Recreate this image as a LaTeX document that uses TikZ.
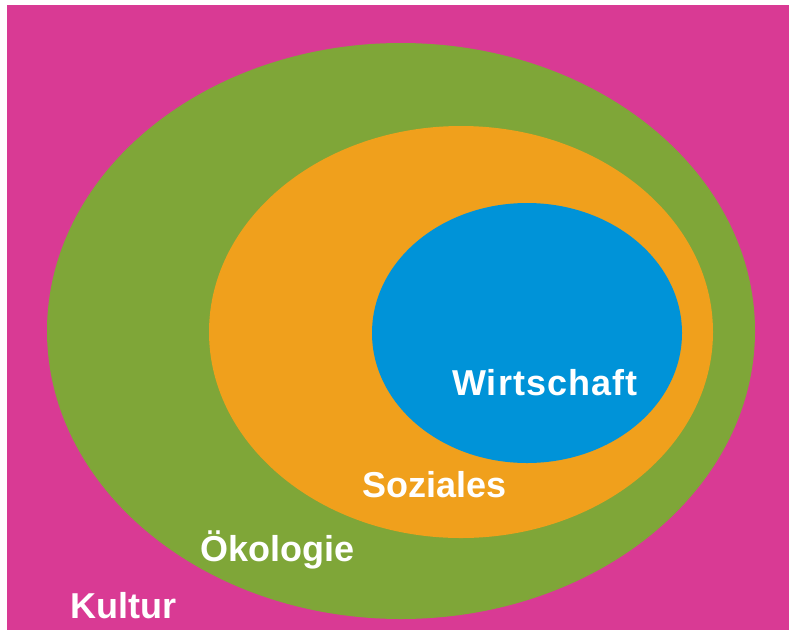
\documentclass[tikz,border=0pt]{standalone}
\usepackage{fontspec}
\setmainfont{Liberation Sans}
\usetikzlibrary{positioning}
\definecolor{kultur}{RGB}{217,58,148}
\definecolor{oeko}{RGB}{127,166,56}
\definecolor{sozial}{RGB}{240,160,28}
\definecolor{wirt}{RGB}{0,147,216}
\tikzset{sphere/.style={white,font=\fontsize{36}{40}\selectfont\bfseries,inner sep=0pt,anchor=base west}}

\begin{document}
\begin{tikzpicture}[x=1pt,y=-1pt]
\useasboundingbox (0,0) rectangle (800,630);
\fill[white] (0,0) rectangle (800,630);
\fill[kultur] (7,5) rectangle (789,630);

\coordinate (G) at (401,331);
\coordinate (S) at (461,332);
\coordinate (W) at (527,333);
\fill[oeko]   (G) ellipse [x radius=354pt, y radius=288pt];
\fill[sozial] (S) ellipse [x radius=252pt, y radius=206pt];
\fill[wirt]   (W) ellipse [x radius=155pt, y radius=130pt];

\node[sphere] (wirtschaft) at (452,395) {\addfontfeature{LetterSpace=3}Wirtschaft};
\node[sphere] (soziales) at (362,497) {Soziales};
\node[sphere] (oekologie) at (200,561) {Ökologie};
\node[sphere] (kulturlabel) at (70,618) {Kultur};
\end{tikzpicture}
\end{document}
